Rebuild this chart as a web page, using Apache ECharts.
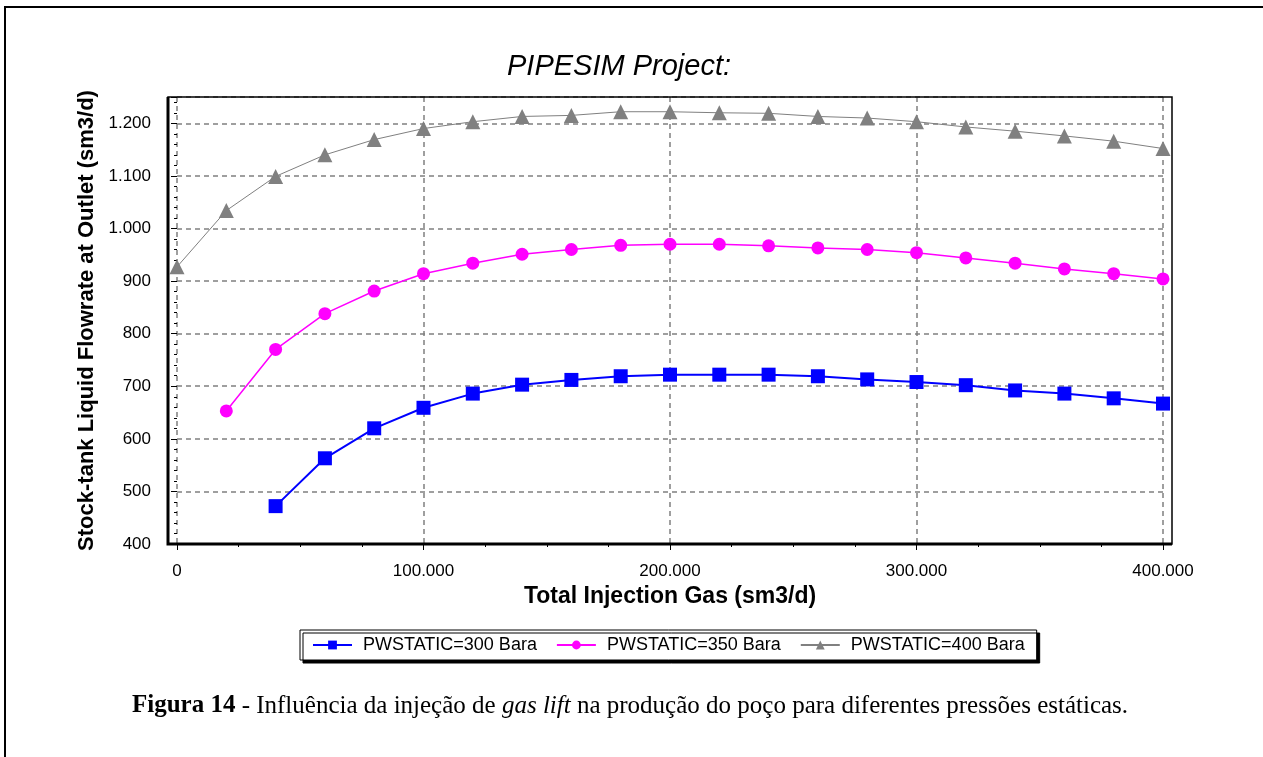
<!DOCTYPE html>
<html>
<head>
<meta charset="utf-8">
<title>PIPESIM Project: gas lift</title>
<script src="https://cdn.jsdelivr.net/npm/echarts@6/dist/echarts.min.js"></script>
<style>
  html, body { margin: 0; padding: 0; background: #fff; }
  #chart { width: 1263px; height: 757px; }
</style>
</head>
<body>
<div id="chart"></div>
<script>
// Total injection gas (sm3/d) sampled by the sensitivity run
const gasRates = [0, 20000, 40000, 60000, 80000, 100000, 120000, 140000, 160000, 180000, 200000,
                  220000, 240000, 260000, 280000, 300000, 320000, 340000, 360000, 380000, 400000];

// Stock-tank liquid flowrate at outlet (sm3/d) per static pressure case
const pw300 = [null, null, 472, 563, 620, 659, 686, 703, 712, 719, 722,
               722, 722, 719, 713, 708, 702, 692, 686, 677, 667];
const pw350 = [null, 653, 770, 838, 881, 914, 934, 951, 960, 968, 970,
               970, 967, 963, 960, 954, 944, 934, 923, 914, 904];
const pw400 = [927, 1034, 1099, 1140, 1169, 1190, 1203, 1213, 1215, 1222, 1222,
               1220, 1219, 1213, 1210, 1203, 1193, 1185, 1176, 1166, 1152];

const seriesNames = ['PWSTATIC=300 Bara', 'PWSTATIC=350 Bara', 'PWSTATIC=400 Bara'];

const xTicks = [0, 100000, 200000, 300000, 400000];
const yTicks = [400, 500, 600, 700, 800, 900, 1000, 1100, 1200];

// layout of the plotting frame
const G = { left: 177, right: 100, top: 97, bottom: 213, pad: 9 };
const W = 1263, H = 757;

function thousands(v) {
  return String(v).replace(/\B(?=(\d{3})+(?!\d))/g, '.');
}
function pairs(ys) {
  const out = [];
  ys.forEach((y, i) => { if (y !== null) out.push([gasRates[i], y]); });
  return out;
}

const chart = echarts.init(document.getElementById('chart'), null, { renderer: 'canvas' });

const frameL = G.left - G.pad;
const frameR = W - G.right + G.pad;
const frameT = G.top;
const frameB = H - G.bottom;

const sans = 'Liberation Sans, Arial, sans-serif';
const serif = 'Liberation Serif, Times New Roman, serif';
const tickFont = { fontFamily: sans, fontSize: 17, color: '#000' };

chart.setOption({
  backgroundColor: '#fff',
  animation: false,
  grid: { left: G.left, right: G.right, top: G.top, bottom: G.bottom, containLabel: false },
  xAxis: {
    type: 'value',
    min: xTicks[0],
    max: xTicks[xTicks.length - 1],
    interval: xTicks[1] - xTicks[0],
    name: 'Total Injection Gas (sm3/d)',
    nameLocation: 'middle',
    nameGap: 41,
    nameTextStyle: { fontFamily: sans, fontSize: 23, fontWeight: 'bold', color: '#000' },
    axisLine: { show: false },
    axisTick: { show: true, length: 6, lineStyle: { color: '#000', width: 1 } },
    minorTick: { show: true, splitNumber: 4, length: 3, lineStyle: { color: '#000', width: 1 } },
    axisLabel: Object.assign({ margin: 19, formatter: thousands }, tickFont),
    splitLine: { show: true, lineStyle: { color: '#808080', width: 1.5, type: [5, 4] } },
    minorSplitLine: { show: false }
  },
  yAxis: {
    type: 'value',
    min: yTicks[0],
    max: 1250,
    interval: yTicks[1] - yTicks[0],
    offset: G.pad,
    name: 'Stock-tank Liquid Flowrate at Outlet (sm3/d)',
    nameLocation: 'middle',
    nameGap: 65,
    nameTextStyle: { fontFamily: sans, fontSize: 22, fontWeight: 'bold', color: '#000' },
    axisLine: { show: false },
    axisTick: { show: true, length: 6, lineStyle: { color: '#000', width: 1 } },
    minorTick: { show: true, splitNumber: 5, length: 3, lineStyle: { color: '#000', width: 1 } },
    axisLabel: Object.assign({ margin: 17, showMaxLabel: false, formatter: thousands }, tickFont),
    splitLine: { show: true, lineStyle: { color: '#808080', width: 1.5, type: [5, 4] } }
  },
  legend: {
    left: 300,
    top: 630,
    orient: 'horizontal',
    itemWidth: 39,
    itemHeight: 11,
    itemGap: 19,
    padding: [6, 12, 6, 12],
    backgroundColor: '#fff',
    borderColor: '#000',
    borderWidth: 1,
    borderRadius: 0,
    shadowColor: '#000',
    shadowBlur: 0,
    shadowOffsetX: 3,
    shadowOffsetY: 3,
    textStyle: { fontFamily: sans, fontSize: 18, color: '#000', padding: [0, 0, 0, 6] },
    data: seriesNames
  },
  series: [
    {
      name: seriesNames[0], type: 'line', data: pairs(pw300),
      symbol: 'rect', symbolSize: 14, clip: false,
      itemStyle: { color: '#0000ff' },
      lineStyle: { color: '#0000ff', width: 2 }
    },
    {
      name: seriesNames[1], type: 'line', data: pairs(pw350),
      symbol: 'circle', symbolSize: 13, clip: false,
      itemStyle: { color: '#ff00ff' },
      lineStyle: { color: '#ff00ff', width: 1.5 }
    },
    {
      name: seriesNames[2], type: 'line', data: pairs(pw400),
      symbol: 'triangle', symbolSize: 15, clip: false,
      itemStyle: { color: '#808080' },
      lineStyle: { color: '#808080', width: 1 }
    }
  ],
  graphic: [
    // page border
    { type: 'rect', silent: true, z: 0,
      shape: { x: 5, y: 7, width: 1400, height: 900 },
      style: { fill: null, stroke: '#000', lineWidth: 2 } },
    // plot frame: thin top/right, heavy left/bottom
    { type: 'rect', silent: true, z: 50,
      shape: { x: frameL, y: frameT, width: frameR - frameL, height: frameB - frameT },
      style: { fill: null, stroke: '#000', lineWidth: 1.5 } },
    { type: 'polyline', silent: true, z: 51,
      shape: { points: [[frameL, frameT], [frameL, frameB], [frameR, frameB]] },
      style: { fill: null, stroke: '#000', lineWidth: 3 } },
    // chart heading
    { type: 'text', silent: true, x: 619, y: 67,
      style: { text: 'PIPESIM Project:', fill: '#000', align: 'center', verticalAlign: 'middle',
               font: 'italic 29px "Liberation Sans", Arial, sans-serif' } },
    // figure caption
    { type: 'text', silent: true, x: 630, y: 706,
      style: {
        text: '{b|Figura 14}{n| - Influência da injeção de }{i|gas lift}{n| na produção do poço para diferentes pressões estáticas.}',
        align: 'center', verticalAlign: 'middle',
        rich: {
          b: { fontFamily: serif, fontSize: 25, fontWeight: 'bold', fill: '#000' },
          n: { fontFamily: serif, fontSize: 25, fill: '#000' },
          i: { fontFamily: serif, fontSize: 25, fontStyle: 'italic', fill: '#000' }
        }
      } }
  ]
});
</script>
</body>
</html>
